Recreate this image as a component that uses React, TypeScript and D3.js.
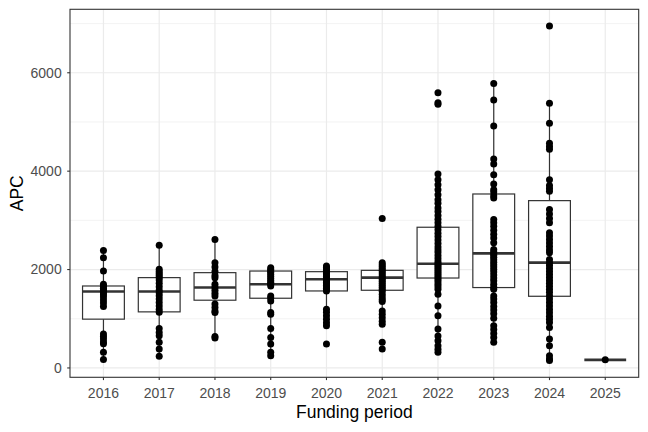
import { useEffect, useRef } from "react";
import * as d3 from "d3";

// funding periods on the x axis
const years = ["2016", "2017", "2018", "2019", "2020", "2021", "2022", "2023", "2024", "2025"];

// box summaries (per year)
const lowerWhisker = [170, 237, 610, 249, 990, 1020, 318, 520, 150, 165];
const q1 = [992, 1140, 1377, 1417, 1565, 1579, 1828, 1634, 1457, 165];
const median = [1553, 1553, 1634, 1700, 1802, 1836, 2119, 2328, 2140, 165];
const q3 = [1666, 1836, 1937, 1970, 1957, 1984, 2860, 3536, 3401, 165];
const upperWhisker = [2389, 2496, 2611, 2038, 2071, 2140, 3941, 5783, 5378, 165];

// individual APC values per year
const apc2016 = [2389, 2241, 1970, 1700, 1660, 1620, 1590, 1560, 1530, 1490, 1440, 1380, 1320, 1250, 690, 640, 590, 530, 490, 320, 170];
const apc2017 = [2496, 2004, 1960, 1920, 1880, 1840, 1790, 1720, 1650, 1580, 1530, 1470, 1400, 1330, 1260, 1190, 1130, 804, 720, 654, 520, 385, 237];
const apc2018 = [2611, 2140, 2050, 1960, 1880, 1836, 1700, 1640, 1580, 1520, 1464, 1300, 1229, 1160, 1127, 640, 610];
const apc2019 = [2038, 2000, 1970, 1940, 1900, 1860, 1820, 1780, 1740, 1700, 1666, 1464, 1420, 1362, 1127, 1090, 804, 621, 486, 318, 249];
const apc2020 = [2071, 2040, 2010, 1980, 1950, 1920, 1890, 1860, 1830, 1800, 1770, 1740, 1710, 1680, 1650, 1620, 1590, 1565, 1194, 1130, 1060, 990, 920, 856, 486];
const apc2021 = [3036, 2140, 2100, 2060, 2020, 1984, 1950, 1910, 1870, 1836, 1800, 1760, 1720, 1680, 1640, 1600, 1560, 1500, 1440, 1390, 1350, 1160, 1090, 1020, 950, 890, 520, 385];
const apc2022 = [5593, 5391, 5358, 3941, 3826, 3725, 3620, 3522, 3421, 3350, 3253, 3180, 3100, 3020, 2950, 2880, 2810, 2740, 2670, 2600, 2530, 2460, 2400, 2340, 2280, 2220, 2160, 2119, 2080, 2040, 2000, 1960, 1920, 1880, 1840, 1800, 1750, 1700, 1650, 1599, 1500, 1261, 1059, 790, 650, 553, 450, 380, 318];
const apc2023 = [5783, 5445, 4919, 4245, 4144, 3927, 3739, 3620, 3577, 3500, 3455, 3016, 2950, 2880, 2800, 2720, 2640, 2544, 2409, 2360, 2328, 2290, 2250, 2200, 2150, 2100, 2050, 2000, 1950, 1890, 1830, 1770, 1700, 1640, 1599, 1464, 1400, 1330, 1250, 1180, 1100, 1012, 856, 780, 700, 620, 520];
const apc2024 = [6950, 5378, 4973, 4568, 4500, 4447, 3826, 3711, 3650, 3590, 3219, 3130, 3040, 2949, 2747, 2680, 2610, 2540, 2470, 2400, 2342, 2206, 2140, 2080, 2020, 1960, 1900, 1840, 1780, 1720, 1660, 1600, 1540, 1470, 1400, 1330, 1260, 1190, 1120, 1050, 990, 925, 824, 587, 451, 249, 180, 150];
const apc2025 = [165];

const apcByYear = [apc2016, apc2017, apc2018, apc2019, apc2020, apc2021, apc2022, apc2023, apc2024, apc2025];

const yTicks = [0, 2000, 4000, 6000];
const yMinor = [1000, 3000, 5000, 7000];

const App = () => {
  const ref = useRef<SVGSVGElement>(null);

  useEffect(() => {
    document.body.style.margin = "0";
    const svg = d3.select(ref.current);
    svg.selectAll("*").remove();

    const width = 648;
    const height = 432;
    const left = 70;
    const right = 638.7;
    const top = 9.3;
    const bottom = 377.3;
    const font = "'Liberation Sans', Arial, sans-serif";

    svg.attr("width", width).attr("height", height);

    const allValues = apcByYear.flat();
    const lo = d3.min(allValues) as number;
    const hi = d3.max(allValues) as number;
    const pad = (hi - lo) * 0.05;

    const x = d3.scalePoint<string>().domain(years).range([left, right]).padding(0.6);
    const y = d3.scaleLinear().domain([lo - pad, hi + pad]).range([bottom, top]);
    const boxW = x.step() * 0.75;

    svg.append("rect").attr("width", width).attr("height", height).attr("fill", "white");

    // grid
    const grid = svg.append("g");
    grid.selectAll(".minor")
      .data(yMinor)
      .enter()
      .append("line")
      .attr("x1", left).attr("x2", right)
      .attr("y1", (d) => y(d)).attr("y2", (d) => y(d))
      .attr("stroke", "#EBEBEB").attr("stroke-width", 0.6);
    grid.selectAll(".major")
      .data(yTicks)
      .enter()
      .append("line")
      .attr("x1", left).attr("x2", right)
      .attr("y1", (d) => y(d)).attr("y2", (d) => y(d))
      .attr("stroke", "#EBEBEB").attr("stroke-width", 1.2);
    grid.selectAll(".vert")
      .data(years)
      .enter()
      .append("line")
      .attr("x1", (d) => x(d)!).attr("x2", (d) => x(d)!)
      .attr("y1", top).attr("y2", bottom)
      .attr("stroke", "#EBEBEB").attr("stroke-width", 1.2);

    // boxplots
    const boxes = svg.append("g")
      .selectAll("g")
      .data(years)
      .enter()
      .append("g");

    boxes.append("line")
      .attr("x1", (d) => x(d)!).attr("x2", (d) => x(d)!)
      .attr("y1", (d, i) => y(upperWhisker[i])).attr("y2", (d, i) => y(q3[i]))
      .attr("stroke", "#333333").attr("stroke-width", 1.2);
    boxes.append("line")
      .attr("x1", (d) => x(d)!).attr("x2", (d) => x(d)!)
      .attr("y1", (d, i) => y(q1[i])).attr("y2", (d, i) => y(lowerWhisker[i]))
      .attr("stroke", "#333333").attr("stroke-width", 1.2);
    boxes.append("rect")
      .attr("x", (d) => x(d)! - boxW / 2)
      .attr("width", boxW)
      .attr("y", (d, i) => y(q3[i]))
      .attr("height", (d, i) => y(q1[i]) - y(q3[i]))
      .attr("fill", "white")
      .attr("stroke", "#333333").attr("stroke-width", 1.2);
    boxes.append("line")
      .attr("x1", (d) => x(d)! - boxW / 2).attr("x2", (d) => x(d)! + boxW / 2)
      .attr("y1", (d, i) => y(median[i])).attr("y2", (d, i) => y(median[i]))
      .attr("stroke", "#333333").attr("stroke-width", 2.6);

    // points
    const pts = years.flatMap((yr, i) => apcByYear[i].map((v) => ({ yr, v })));
    svg.append("g")
      .selectAll("circle")
      .data(pts)
      .enter()
      .append("circle")
      .attr("cx", (d) => x(d.yr)!)
      .attr("cy", (d) => y(d.v))
      .attr("r", 3.5)
      .attr("fill", "black");

    // panel border
    svg.append("rect")
      .attr("x", left).attr("y", top)
      .attr("width", right - left).attr("height", bottom - top)
      .attr("fill", "none").attr("stroke", "#333333").attr("stroke-width", 1.1);

    // axes
    const yAxis = svg.append("g");
    yAxis.selectAll("line")
      .data(yTicks)
      .enter()
      .append("line")
      .attr("x1", left - 2.8).attr("x2", left)
      .attr("y1", (d) => y(d)).attr("y2", (d) => y(d))
      .attr("stroke", "#333333").attr("stroke-width", 1.1);
    yAxis.selectAll("text")
      .data(yTicks)
      .enter()
      .append("text")
      .attr("x", left - 8.3)
      .attr("y", (d) => y(d))
      .attr("dy", "0.35em")
      .attr("text-anchor", "end")
      .attr("fill", "#4D4D4D")
      .style("font-family", font)
      .style("font-size", "14px")
      .text((d) => d);

    const xAxis = svg.append("g");
    xAxis.selectAll("line")
      .data(years)
      .enter()
      .append("line")
      .attr("x1", (d) => x(d)!).attr("x2", (d) => x(d)!)
      .attr("y1", bottom).attr("y2", bottom + 2.8)
      .attr("stroke", "#333333").attr("stroke-width", 1.1);
    xAxis.selectAll("text")
      .data(years)
      .enter()
      .append("text")
      .attr("x", (d) => x(d)!)
      .attr("y", 397.6)
      .attr("text-anchor", "middle")
      .attr("fill", "#4D4D4D")
      .style("font-family", font)
      .style("font-size", "14px")
      .text((d) => d);

    svg.append("text")
      .attr("x", (left + right) / 2)
      .attr("y", 417.6)
      .attr("text-anchor", "middle")
      .attr("fill", "black")
      .style("font-family", font)
      .style("font-size", "17.5px")
      .text("Funding period");

    svg.append("text")
      .attr("transform", `translate(23.3,${(top + bottom) / 2}) rotate(-90)`)
      .attr("text-anchor", "middle")
      .attr("fill", "black")
      .style("font-family", font)
      .style("font-size", "17.5px")
      .text("APC");
  }, []);

  return <svg ref={ref} style={{ display: "block" }}></svg>;
};

export default App;
